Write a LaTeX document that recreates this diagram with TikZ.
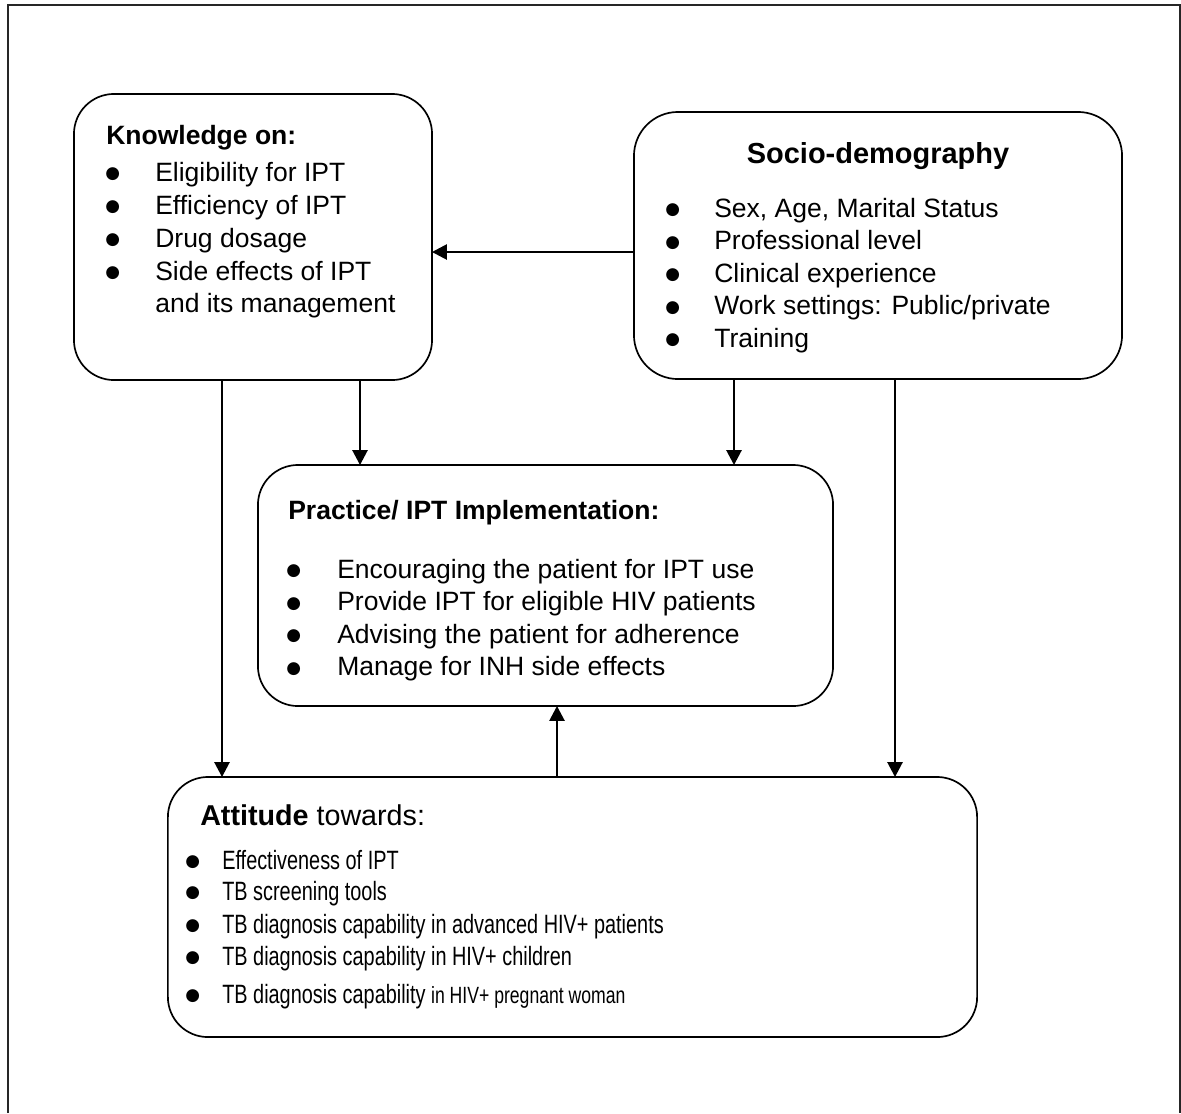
\documentclass[tikz,border=0pt]{standalone}
\usepackage{fontspec}
\setmainfont{Liberation Sans}
\newfontfamily\narrowfont[FakeStretch=0.75]{Liberation Sans}
\newfontfamily\dotfont{DejaVu Sans}
\usetikzlibrary{arrows.meta}
\newcommand\bul[1]{\makebox[#1][l]{\raisebox{1.6pt}{\dotfont\fontsize{12}{14}\selectfont ●}}}

\begin{document}
\begin{tikzpicture}[x=0.025cm,y=-0.025cm,
    box/.style={draw,line width=1.2pt,rounded corners=1cm,inner sep=0pt,outer sep=0pt},
    txt/.style={anchor=base west,inner sep=0pt,font=\fontsize{18.85}{22}\selectfont},
    narrowtxt/.style={anchor=base west,inner sep=0pt,font=\narrowfont\fontsize{18.85}{22}\selectfont},
    arr/.style={line width=1.2pt,-{Triangle[length=0.37cm,width=0.38cm]}}]
  \useasboundingbox (0,0) rectangle (1181,1113);
  \draw[line width=0.9pt,black!85] (8,1113) -- (8,5) -- (1180,5) -- (1180,1113);

  % boxes
  \node[box,minimum width=8.95cm,minimum height=7.15cm] (know) at (253,237) {};
  \node[box,rounded corners=1.1cm,minimum width=12.2cm,minimum height=6.675cm] (socio) at (878,245.5) {};
  \node[box,minimum width=14.375cm,minimum height=6.025cm] (prac) at (545.5,585.5) {};
  \node[box,minimum width=20.225cm,minimum height=6.5cm] (att) at (572.5,907) {};

  % knowledge
  \node[txt] (khead) at (106,144) {\bfseries Knowledge on:};
  \node[txt] (k1) at (105,181) {\bul{1.25cm}Eligibility for IPT};
  \node[txt] (k2) at (105,214) {\bul{1.25cm}Efficiency of IPT};
  \node[txt] (k3) at (105,247) {\bul{1.25cm}Drug dosage};
  \node[txt] (k4) at (105,280) {\bul{1.25cm}Side effects of IPT};
  \node[txt] (k5) at (155,312) {and its management};

  % socio-demography
  \node[anchor=base,inner sep=0pt,font=\fontsize{20.6}{24}\selectfont\bfseries] (shead) at (878,163) {Socio-demography};
  \node[txt] (s1) at (665,217) {\bul{1.225cm}Sex, Age, Marital Status};
  \node[txt] (s2) at (665,249.5) {\bul{1.225cm}Professional level};
  \node[txt] (s3) at (665,282) {\bul{1.225cm}Clinical experience};
  \node[txt] (s4) at (665,314.5) {\bul{1.225cm}Work settings: Public/private};
  \node[txt] (s5) at (665,347) {\bul{1.225cm}Training};

  % practice
  \node[txt] (phead) at (288,519) {\bfseries Practice/ IPT Implementation:};
  \node[txt] (p1) at (286,578) {\bul{1.275cm}Encouraging the patient for IPT use};
  \node[txt] (p2) at (286,610.5) {\bul{1.275cm}Provide IPT for eligible HIV patients};
  \node[txt] (p3) at (286,643) {\bul{1.275cm}Advising the patient for adherence};
  \node[txt] (p4) at (286,675.5) {\bul{1.275cm}Manage for INH side effects};

  % attitude
  \node[txt,font=\fontsize{20.4}{24}\selectfont] (ahead) at (200,825) {\textbf{Attitude} towards:};
  \node[narrowtxt] (a1) at (185,869) {\bul{0.925cm}Effectiveness of IPT};
  \node[narrowtxt] (a2) at (185,900) {\bul{0.925cm}TB screening tools};
  \node[narrowtxt] (a3) at (185,933) {\bul{0.925cm}TB diagnosis capability in advanced HIV+ patients};
  \node[narrowtxt] (a4) at (185,965) {\bul{0.925cm}TB diagnosis capability in HIV+ children};
  \node[narrowtxt] (a5) at (185,1003) {\bul{0.925cm}TB diagnosis capability {\fontsize{16.7}{19}\selectfont in HIV+ pregnant woman}};

  % arrows
  \draw[arr] (socio.west |- 0,252) -- (know.east |- 0,252);
  \draw[arr] (222,0 |- know.south) -- (222,0 |- att.north);
  \draw[arr] (360,0 |- know.south) -- (360,0 |- prac.north);
  \draw[arr] (734,0 |- socio.south) -- (734,0 |- prac.north);
  \draw[arr] (895,0 |- socio.south) -- (895,0 |- att.north);
  \draw[arr] (557,0 |- att.north) -- (557,0 |- prac.south);
\end{tikzpicture}
\end{document}
